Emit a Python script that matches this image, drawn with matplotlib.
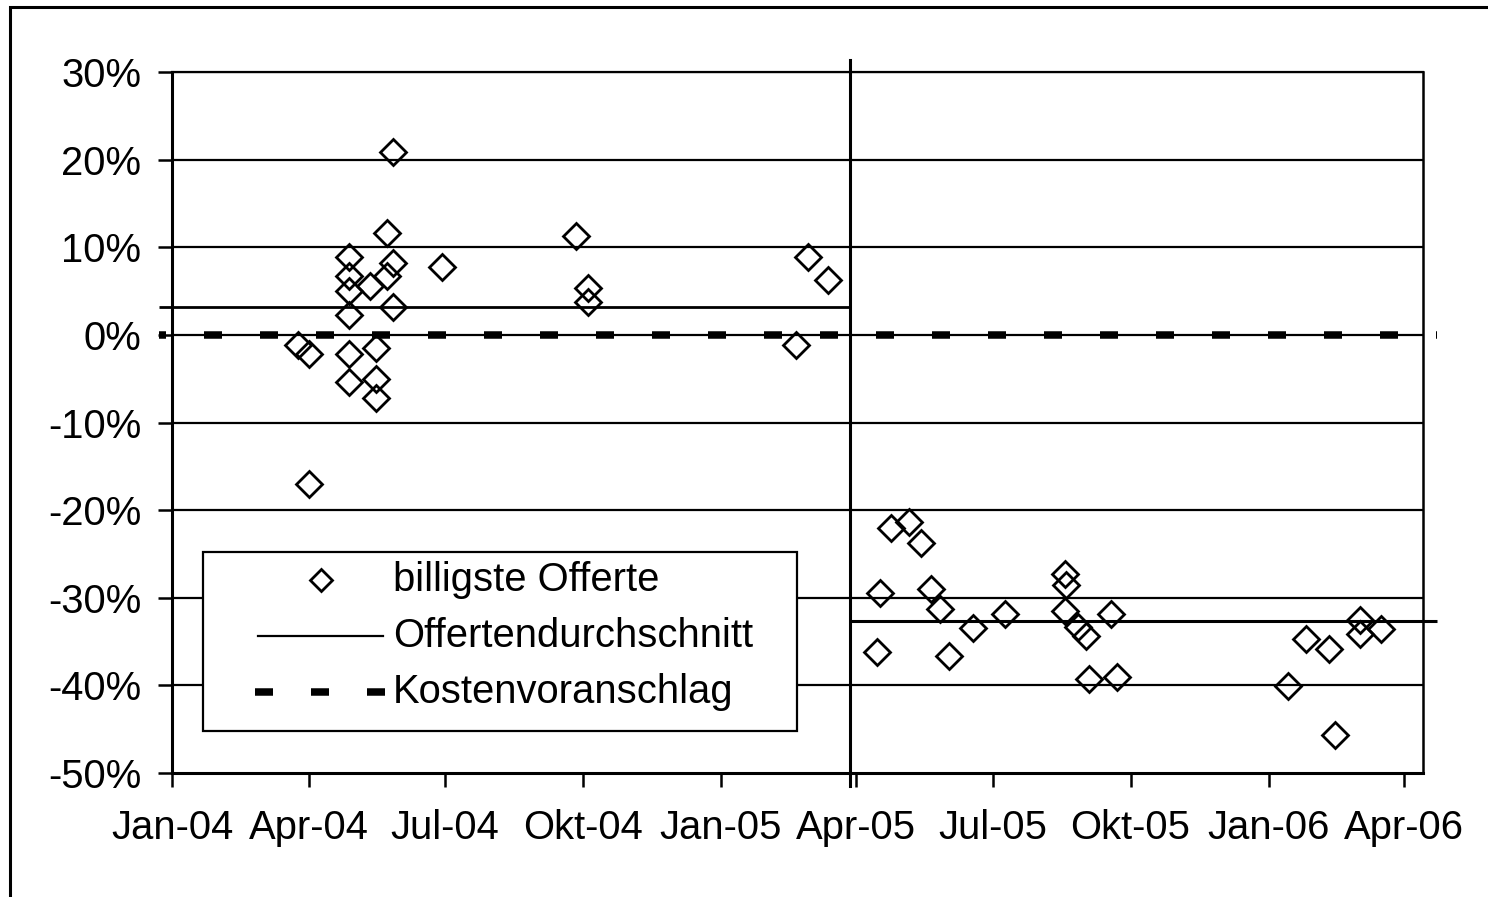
import numpy as np
import matplotlib
matplotlib.use('Agg')
import matplotlib.pyplot as plt
from matplotlib.patches import Rectangle
from matplotlib.lines import Line2D

plt.rcParams['font.family'] = ['Liberation Sans', 'DejaVu Sans']

# ---- data -------------------------------------------------------------
offer_dates = [
    '2004-03-25', '2004-04-01', '2004-04-01',
    '2004-04-28', '2004-04-28', '2004-04-28', '2004-04-28', '2004-04-28', '2004-04-28',
    '2004-05-12', '2004-05-16', '2004-05-16', '2004-05-16',
    '2004-05-23', '2004-05-23', '2004-05-27', '2004-05-27', '2004-05-27',
    '2004-06-29', '2004-09-26', '2004-10-04', '2004-10-04',
    '2005-02-20', '2005-02-28', '2005-03-13',
    '2005-04-15', '2005-04-17', '2005-04-24', '2005-05-06', '2005-05-14',
    '2005-05-21', '2005-05-27', '2005-06-02', '2005-06-18', '2005-07-09',
    '2005-08-18', '2005-08-18', '2005-08-19', '2005-08-27', '2005-09-01',
    '2005-09-03', '2005-09-18', '2005-09-22',
    '2006-01-14', '2006-01-26', '2006-02-10', '2006-02-14',
    '2006-03-03', '2006-03-03', '2006-03-17',
]
offer_values = [
    -1.1, -2.2, -17.0,
    8.9, 6.7, 5.05, 2.3, -2.2, -5.4,
    5.6, -1.5, -5.0, -7.2,
    11.6, 6.7, 20.9, 8.2, 3.15,
    7.8, 11.3, 5.3, 3.8,
    -1.1, 8.9, 6.3,
    -36.2, -29.5, -22.0, -21.3, -23.8,
    -29.0, -31.3, -36.6, -33.4, -31.9,
    -27.3, -31.55, -28.5, -33.3, -34.4,
    -39.3, -31.9, -39.0,
    -40.1, -34.75, -35.8, -45.7,
    -32.5, -34.1, -33.6,
]

avg_left_dates = ['2003-12-23', '2005-03-28']
avg_left_values = [3.15, 3.15]
avg_right_dates = ['2005-03-28', '2006-04-23']
avg_right_values = [-32.65, -32.65]
kv_dates = ['2003-12-23', '2006-04-23']
kv_values = [0.0, 0.0]
separator_date = '2005-03-28'

x_ticks = ['2004-01-01', '2004-04-01', '2004-07-01', '2004-10-01', '2005-01-01',
           '2005-04-01', '2005-07-01', '2005-10-01', '2006-01-01', '2006-04-01']
x_tick_labels = ['Jan-04', 'Apr-04', 'Jul-04', 'Okt-04', 'Jan-05',
                 'Apr-05', 'Jul-05', 'Okt-05', 'Jan-06', 'Apr-06']
y_ticks = [-50, -40, -30, -20, -10, 0, 10, 20, 30]
y_tick_labels = ['-50%', '-40%', '-30%', '-20%', '-10%', '0%', '10%', '20%', '30%']

legend_labels = ['billigste Offerte', 'Offertendurchschnitt', 'Kostenvoranschlag']

def d(lst):
    return np.array(lst, dtype='datetime64[D]')

# ---- figure -----------------------------------------------------------
W, H = 1488, 897
fig = plt.figure(figsize=(W / 100, H / 100), dpi=100)
fig.patch.set_facecolor('white')

# outer border (left/top visible)
fig.patches.append(Rectangle((10 / W, -0.1), 1.2, 1 - 7 / H + 0.1,
                             transform=fig.transFigure, fill=False,
                             edgecolor='black', linewidth=2.2))

ax = fig.add_axes([172 / W, (H - 773) / H, 1251 / W, 701 / H])
ax.set_facecolor('white')

FS = 28.8
KV_LW = 5.4
px_per_lw = KV_LW * 100 / 72.0          # pixels per linewidth unit
dash_on, dash_off, dash_ofs = 18 / px_per_lw, 38 / px_per_lw, 11 / px_per_lw
dash_style = (dash_ofs, (dash_on, dash_off))

# grid lines
for yv in y_ticks[1:]:
    ax.axhline(yv, color='black', linewidth=1.6, zorder=1)

# averages
ax.plot(d(avg_left_dates), avg_left_values, color='black', linewidth=2.0,
        zorder=2, clip_on=False, solid_capstyle='butt')
ax.plot(d(avg_right_dates), avg_right_values, color='black', linewidth=2.2,
        zorder=2, clip_on=False, solid_capstyle='butt')

# cost estimate (dashed)
ax.plot(d(kv_dates), kv_values, color='black', linewidth=KV_LW,
        linestyle=dash_style, zorder=3, clip_on=False, dash_capstyle='butt')

# separator
ax.axvline(d([separator_date])[0], ymin=-0.0185, ymax=1.017, color='black',
           linewidth=2.2, zorder=3, clip_on=False)

# offers
ax.plot(d(offer_dates), offer_values, linestyle='none', marker='D',
        markersize=13, markerfacecolor='none', markeredgecolor='black',
        markeredgewidth=2.0, zorder=4, clip_on=False)

ax.set_xlim(np.datetime64('2004-01-01'), np.datetime64('2006-04-14'))
ax.set_ylim(-50, 30)

ax.set_xticks(d(x_ticks))
ax.set_xticklabels(x_tick_labels, fontsize=FS)
ax.set_yticks(y_ticks)
ax.set_yticklabels(y_tick_labels, fontsize=FS)
ax.tick_params(axis='both', direction='out', length=10, width=1.8, color='black')
ax.tick_params(axis='x', pad=16)
ax.tick_params(axis='y', pad=12)

for side, lw in [('left', 2.2), ('bottom', 2.2), ('top', 1.6), ('right', 1.8)]:
    ax.spines[side].set_linewidth(lw)
    ax.spines[side].set_color('black')

# ---- legend (manual, in axes fraction) ---------------------------------
def fx(px):
    return (px - 172) / 1251

def fy(py):
    return (773 - py) / 701

ax.add_patch(Rectangle((fx(203), fy(731)), fx(797) - fx(203), fy(552) - fy(731),
                       transform=ax.transAxes, facecolor='white', edgecolor='black',
                       linewidth=1.6, zorder=10, clip_on=False))
rows = [580, 636, 692]
ax.add_line(Line2D([fx(321)], [fy(rows[0])], transform=ax.transAxes, marker='D',
                   markersize=11.5, markerfacecolor='none', markeredgecolor='black',
                   markeredgewidth=2.0, linestyle='none', zorder=11, clip_on=False))
ax.add_line(Line2D([fx(258), fx(383)], [fy(rows[1])] * 2, transform=ax.transAxes,
                   color='black', linewidth=1.6, zorder=11, clip_on=False))
ax.add_line(Line2D([fx(255), fx(388)], [fy(rows[2])] * 2, transform=ax.transAxes,
                   color='black', linewidth=KV_LW, linestyle=(0, (dash_on, dash_off)),
                   dash_capstyle='butt', zorder=11, clip_on=False))
for r, lab in zip(rows, legend_labels):
    ax.text(fx(393), fy(r), lab, transform=ax.transAxes, fontsize=FS,
            ha='left', va='center', zorder=12)

fig.savefig('out.png', dpi=100)
